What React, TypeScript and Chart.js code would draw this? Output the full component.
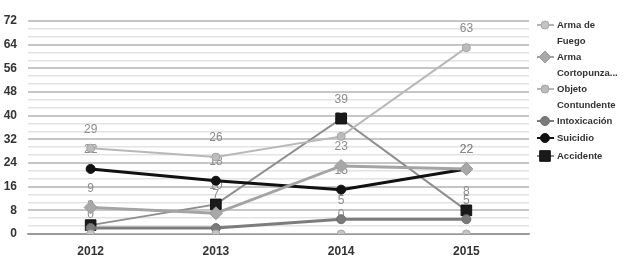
import React, { useEffect, useRef } from "react";
import { Chart, registerables } from "chart.js";

Chart.register(...registerables);

const years = ["2012", "2013", "2014", "2015"];
const armaDeFuego = [0, 0, 0, 0];
const armaCortopunzante = [9, 7, 23, 22];
const objetoContundente = [29, 26, 33, 63];
const intoxicacion = [2, 2, 5, 5];
const suicidio = [22, 18, 15, 22];
const accidente = [3, 10, 39, 8];

const seriesNames = [
  ["Arma de", "Fuego"],
  ["Arma", "Cortopunza..."],
  ["Objeto", "Contundente"],
  ["Intoxicación"],
  ["Suicidio"],
  ["Accidente"],
];

const yMax = 72;
const yMajorStep = 8;
const yMinorPerMajor = 3;

const FONT = "'Liberation Sans', Arial, sans-serif";

const dataLabelPlugin = {
  id: "dataLabels",
  beforeDatasetsDraw(chart: any) {
    const ctx = chart.ctx;
    ctx.save();
    ctx.font = `12px ${FONT}`;
    ctx.fillStyle = "#8c8c8c";
    ctx.textAlign = "center";
    ctx.textBaseline = "middle";
    chart.data.datasets.forEach((ds: any, i: number) => {
      const meta = chart.getDatasetMeta(i);
      meta.data.forEach((pt: any, j: number) => {
        ctx.fillText(String(ds.data[j]), pt.x, pt.y - 19);
      });
    });
    ctx.restore();
  },
};

const legendPlugin = {
  id: "customLegend",
  afterDraw(chart: any) {
    const ctx = chart.ctx;
    const lineYs = [25, 41, 57, 73, 89, 105, 121, 138, 156];
    let li = 0;
    ctx.save();
    chart.data.datasets.forEach((ds: any, i: number) => {
      const y = lineYs[li];
      const mx = 545;
      ctx.strokeStyle = ds.borderColor;
      ctx.lineWidth = 2;
      ctx.beginPath();
      ctx.moveTo(537, y);
      ctx.lineTo(554, y);
      ctx.stroke();
      ctx.fillStyle = ds.pointBackgroundColor;
      ctx.strokeStyle = ds.pointBorderColor;
      ctx.lineWidth = 1;
      const r = Math.min(ds.pointRadius, 6);
      ctx.beginPath();
      if (ds.pointStyle === "rect") {
        const s = Math.SQRT1_2 * (r + 1.5);
        ctx.rect(mx - s, y - s, 2 * s, 2 * s);
      } else if (ds.pointStyle === "rectRot") {
        ctx.moveTo(mx - r, y);
        ctx.lineTo(mx, y - r);
        ctx.lineTo(mx + r, y);
        ctx.lineTo(mx, y + r);
        ctx.closePath();
      } else {
        ctx.arc(mx, y, r, 0, Math.PI * 2);
      }
      ctx.fill();
      ctx.stroke();
      ctx.font = `bold 9.5px ${FONT}`;
      ctx.fillStyle = "#333333";
      ctx.textAlign = "left";
      ctx.textBaseline = "middle";
      seriesNames[i].forEach((t) => {
        ctx.fillText(t, 557, lineYs[li]);
        li++;
      });
    });
    ctx.restore();
  },
};

export default function App() {
  const ref = useRef<HTMLCanvasElement>(null);
  useEffect(() => {
    if (!ref.current) return;
    const mk = (label: string, data: number[], line: string, fill: string, border: string, style: string, radius: number, width: number) => ({
      label,
      data,
      borderColor: line,
      backgroundColor: fill,
      pointBackgroundColor: fill,
      pointBorderColor: border,
      pointStyle: style,
      pointRadius: radius,
      pointHoverRadius: radius,
      borderWidth: width,
      pointBorderWidth: 1,
      tension: 0,
    });
    const chart = new Chart(ref.current, {
      type: "line",
      data: {
        labels: years,
        datasets: [
          mk("Arma de Fuego", armaDeFuego, "#b4b4b4", "#c4c4c4", "#a8a8a8", "circle", 4, 2),
          mk("Arma Cortopunzante", armaCortopunzante, "#a4a4a4", "#a8a8a8", "#9c9c9c", "rectRot", 6.5, 3),
          mk("Objeto Contundente", objetoContundente, "#b8b8b8", "#bcbcbc", "#a4a4a4", "circle", 4, 2),
          mk("Intoxicación", intoxicacion, "#7c7c7c", "#7a7a7a", "#707070", "circle", 4.5, 3),
          mk("Suicidio", suicidio, "#111111", "#111111", "#111111", "circle", 4.5, 3),
          mk("Accidente", accidente, "#8e8e8e", "#1a1a1a", "#111111", "rect", 7.5, 2),
        ] as any,
      },
      options: {
        responsive: false,
        animation: false,
        devicePixelRatio: 1,
        layout: { padding: { left: 0, right: 95, top: 21, bottom: 0 } },
        plugins: { legend: { display: false }, tooltip: { enabled: false } },
        scales: {
          x: {
            type: "category",
            offset: true,
            grid: { display: false, drawTicks: false },
            border: { display: true, color: "#9a9a9a", width: 1.5 },
            ticks: { color: "#333333", font: { family: FONT, size: 12, weight: "bold" }, padding: 10 },
            afterFit: (s: any) => { s.height = 27; },
          },
          y: {
            min: 0,
            max: yMax,
            grid: {
              drawTicks: false,
              color: (c: any) => (c.index === 0 ? "#9a9a9a" : c.index % yMinorPerMajor === 0 ? "#c6c6c6" : "#e3e3e3"),
              lineWidth: (c: any) => (c.index % yMinorPerMajor === 0 ? 2 : 1.5),
            },
            border: { display: false },
            afterBuildTicks: (s: any) => {
              const n = (yMax / yMajorStep) * yMinorPerMajor;
              const t = [];
              for (let i = 0; i <= n; i++) t.push({ value: (i * yMajorStep) / yMinorPerMajor });
              s.ticks = t;
            },
            ticks: {
              autoSkip: false,
              color: "#333333",
              font: { family: FONT, size: 12, weight: "bold" },
              padding: 11,
              callback: (v: any, i: number) => (i % yMinorPerMajor === 0 ? String(Math.round(v)) : ""),
            },
            afterFit: (s: any) => { s.width = 28; },
          },
        },
      } as any,
      plugins: [dataLabelPlugin, legendPlugin],
    });
    return () => chart.destroy();
  }, []);
  return (
    <div style={{ position: "absolute", left: 0, top: 0, width: 624, height: 261, background: "#fff" }}>
      <canvas ref={ref} width={624} height={261} style={{ width: 624, height: 261 }} />
    </div>
  );
}
